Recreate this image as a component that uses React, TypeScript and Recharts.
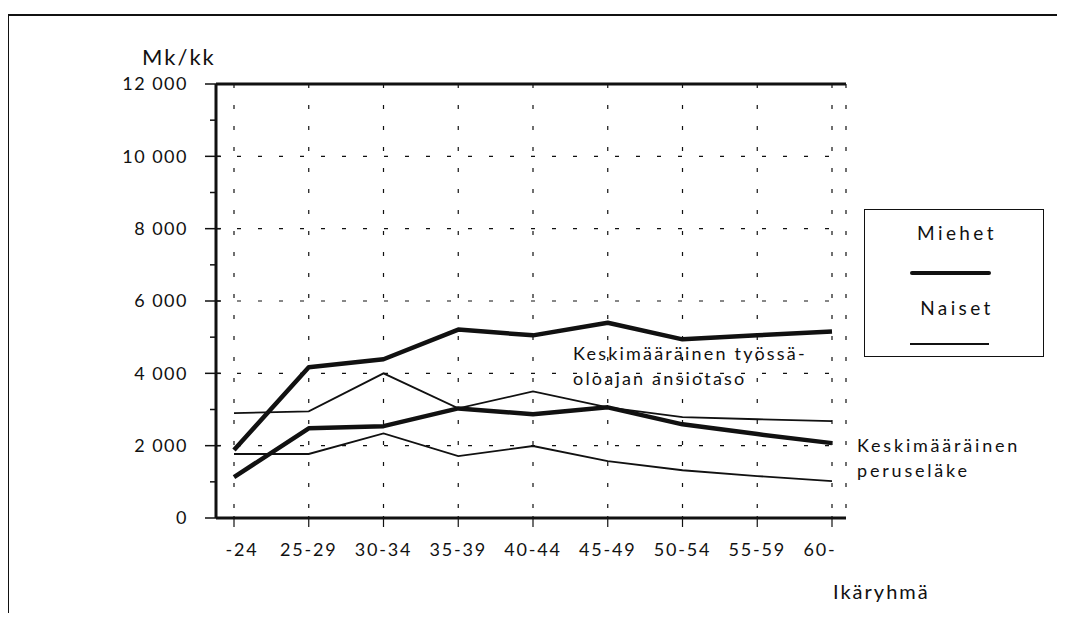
import { CartesianGrid, Legend, Line, LineChart, XAxis, YAxis } from "recharts";

const AGE_GROUPS = ["-24", "25-29", "30-34", "35-39", "40-44", "45-49", "50-54", "55-59", "60-"];
const MEN_EARNINGS = [1880, 4170, 4390, 5210, 5050, 5400, 4940, 5050, 5160];
const MEN_PENSION = [1130, 2480, 2540, 3030, 2870, 3060, 2590, 2320, 2070];
const WOMEN_EARNINGS = [2900, 2950, 4000, 3030, 3500, 3060, 2790, 2730, 2680];
const WOMEN_PENSION = [1770, 1770, 2340, 1710, 1990, 1570, 1320, 1160, 1020];
const Y_TICKS = [0, 1000, 2000, 3000, 4000, 5000, 6000, 7000, 8000, 9000, 10000, 11000, 12000];
const GRID_VALUES = [2000, 4000, 6000, 8000, 10000];

const FONT = "Lato, 'Open Sans', sans-serif";
const INK = "#111";

const data = AGE_GROUPS.map((g, i) => ({
  group: g,
  menEarn: MEN_EARNINGS[i],
  menPension: MEN_PENSION[i],
  womenEarn: WOMEN_EARNINGS[i],
  womenPension: WOMEN_PENSION[i],
}));

const fmt = (v: number) => String(v).replace(/\B(?=(\d{3})+(?!\d))/g, " ");

function YTick({ x, y, payload }: any) {
  const v = payload.value as number;
  const major = v % 2000 === 0;
  return (
    <g>
      {major ? (
        <>
          <line x1={x - 11} x2={x + 5} y1={y} y2={y} stroke={INK} strokeWidth={1.5} />
          <text x={x - 28} y={y} dy="0.36em" textAnchor="end" fill={INK} fontSize={18} letterSpacing={1.5} fontFamily={FONT}>
            {fmt(v)}
          </text>
        </>
      ) : (
        <line x1={x - 6} x2={x} y1={y} y2={y} stroke={INK} strokeWidth={1.5} />
      )}
    </g>
  );
}

function XTick({ x, y, payload }: any) {
  const s = payload.value as string;
  const shift = s.startsWith("-") ? 8 : s.endsWith("-") ? -12 : 0;
  return (
    <g>
      <line x1={x} x2={x} y1={y - 4} y2={y + 7} stroke={INK} strokeWidth={1.2} />
      <text x={x + shift} y={y + 30} dy="0.36em" textAnchor="middle" fill={INK} fontSize={18} letterSpacing={1.8} fontFamily={FONT}>
        {s}
      </text>
    </g>
  );
}

function LegendBox() {
  const txt = { fontFamily: FONT, fontSize: 19, letterSpacing: 3.4, color: INK, position: "absolute" as const, width: "100%", textAlign: "center" as const, lineHeight: "20px" };
  return (
    <div style={{ position: "relative", width: 178, height: 146, border: `1.5px solid ${INK}`, background: "#fff" }}>
      <div style={{ ...txt, top: 13, paddingLeft: 3 }}>Miehet</div>
      <div style={{ position: "absolute", left: 45, width: 81, top: 61, height: 4, background: INK, borderRadius: 2 }} />
      <div style={{ ...txt, top: 88, paddingLeft: 3 }}>Naiset</div>
      <div style={{ position: "absolute", left: 45, width: 79, top: 133, height: 1.5, background: INK }} />
    </div>
  );
}

const label = (left: number, top: number, text: string, extra: any = {}) => (
  <div style={{ position: "absolute", left, top, fontFamily: FONT, fontSize: 18, letterSpacing: 2.2, color: INK, lineHeight: "22px", whiteSpace: "nowrap", ...extra }}>
    {text}
  </div>
);

export default function App() {
  return (
    <div style={{ position: "relative", width: 1049, height: 605, background: "#fff" }}>
      <div style={{ position: "absolute", left: 0, top: 6, width: 1057, height: 599, borderLeft: `1.5px solid ${INK}`, borderTop: `2px solid ${INK}` }} />
      <LineChart width={1049} height={605} data={data} margin={{ top: 75, right: 211, bottom: 35, left: 108 }}>
        <CartesianGrid
          stroke={INK}
          strokeWidth={1.2}
          strokeDasharray="4 17"
          horizontalValues={GRID_VALUES}
        />
        <XAxis
          dataKey="group"
          padding={{ left: 18, right: 14 }}
          axisLine={{ stroke: INK, strokeWidth: 3 }}
          tickLine={false}
          tickSize={0}
          tick={<XTick />}
          height={60}
          interval={0}
        />
        <XAxis xAxisId="top" orientation="top" dataKey="group" height={1} tick={false} tickLine={false} axisLine={{ stroke: INK, strokeWidth: 3 }} />
        <YAxis
          domain={[0, 12000]}
          ticks={Y_TICKS}
          interval={0}
          axisLine={{ stroke: INK, strokeWidth: 3 }}
          tickLine={false}
          tickSize={0}
          tickMargin={0}
          tick={<YTick />}
          width={100}
        />
        <YAxis yAxisId="right" orientation="right" domain={[0, 1]} type="number" width={0} tick={false} tickLine={false} axisLine={{ stroke: INK, strokeWidth: 3 }} />
        <Line dataKey="menEarn" stroke={INK} strokeWidth={4.5} dot={false} isAnimationActive={false} strokeLinejoin="round" />
        <Line dataKey="menPension" stroke={INK} strokeWidth={4.5} dot={false} isAnimationActive={false} strokeLinejoin="round" />
        <Line dataKey="womenEarn" stroke={INK} strokeWidth={1.8} dot={false} isAnimationActive={false} />
        <Line dataKey="womenPension" stroke={INK} strokeWidth={1.8} dot={false} isAnimationActive={false} />
        <Legend
          layout="horizontal"
          verticalAlign="middle"
          align="center"
          content={<LegendBox />}
          wrapperStyle={{ position: "absolute", left: 856, top: 201, width: 180, height: 148 }}
        />
      </LineChart>
      {label(134, 38, "Mk/kk", { fontSize: 22, letterSpacing: 2 })}
      {label(565, 334, "Keskimääräinen työssä-")}
      {label(565, 359, "oloajan ansiotaso")}
      {label(849, 426, "Keskimääräinen", { letterSpacing: 2.8 })}
      {label(849, 451, "peruseläke", { letterSpacing: 2.8 })}
      {label(825, 572, "Ikäryhmä", { fontSize: 20, letterSpacing: 2 })}
    </div>
  );
}
